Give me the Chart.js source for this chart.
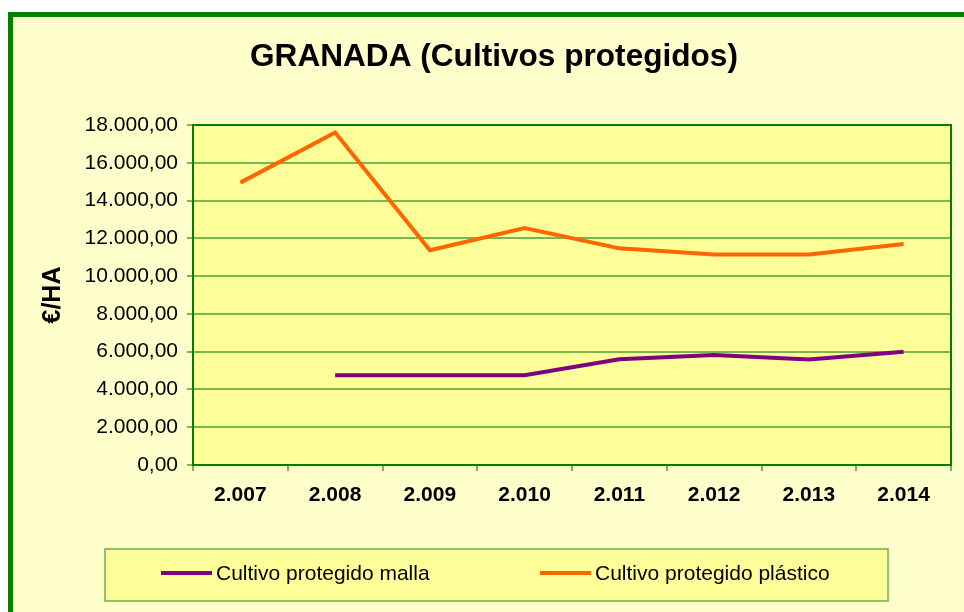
<!DOCTYPE html>
<html>
<head>
<meta charset="utf-8">
<script src="https://cdn.jsdelivr.net/npm/chart.js@4.4.1/dist/chart.umd.min.js"></script>
<style>
  html, body { margin: 0; padding: 0; background: #fff; overflow: hidden; }
  #wrap { width: 964px; height: 612px; position: relative; }
</style>
</head>
<body>
<div id="wrap"><canvas id="chart"></canvas></div>
<script>
// data
const years = ['2.007', '2.008', '2.009', '2.010', '2.011', '2.012', '2.013', '2.014'];
const malla = [null, 4750, 4750, 4750, 5600, 5820, 5580, 6000];
const plastico = [14950, 17600, 11370, 12550, 11470, 11150, 11150, 11700];
const seriesNames = ['Cultivo protegido malla', 'Cultivo protegido plástico'];
const titleText = 'GRANADA (Cultivos protegidos)';
const yTitle = '€/HA';

const FONT = "'Liberation Sans', Arial, sans-serif";
const GRID = '#79B84E';
const DARK = '#008000';

// 18000 -> "18.000,00"
function fmt(v) {
  const s = String(Math.round(v));
  return s.replace(/\B(?=(\d{3})+(?!\d))/g, '.') + ',00';
}

// backgrounds, outer frame, plot frame, title and legend box
const decor = {
  id: 'decor',
  beforeDraw(chart) {
    const ctx = chart.ctx;
    const a = chart.chartArea;
    ctx.save();
    ctx.fillStyle = '#ffffff';
    ctx.fillRect(0, 0, chart.width, chart.height);
    ctx.fillStyle = '#FFFFCC';
    ctx.fillRect(8, 12, chart.width, chart.height);
    ctx.strokeStyle = DARK;
    ctx.lineWidth = 5;
    ctx.strokeRect(10.5, 14.5, chart.width + 20, chart.height + 20);
    ctx.fillStyle = '#FFFF99';
    ctx.fillRect(a.left, a.top, a.right - a.left, a.bottom - a.top);

    ctx.fillStyle = '#000';
    ctx.font = 'bold 31.6px ' + FONT;
    ctx.textAlign = 'center';
    ctx.textBaseline = 'middle';
    ctx.fillText(titleText, 494, 57);
    ctx.restore();
  },
  beforeDatasetsDraw(chart) {
    const ctx = chart.ctx;
    const a = chart.chartArea;
    ctx.save();
    ctx.strokeStyle = DARK;
    ctx.lineWidth = 2;
    ctx.strokeRect(a.left, a.top, a.right - a.left, a.bottom - a.top);
    ctx.restore();
  },
  afterDraw(chart) {
    const ctx = chart.ctx;
    ctx.save();
    ctx.fillStyle = '#FFFF99';
    ctx.fillRect(105, 549, 783, 52);
    ctx.strokeStyle = '#6CB04A';
    ctx.lineWidth = 1.5;
    ctx.strokeRect(105, 549, 783, 52);
    const items = [{ x: 161 }, { x: 540 }];
    chart.data.datasets.forEach((ds, i) => {
      const x = items[i].x;
      ctx.strokeStyle = ds.borderColor;
      ctx.lineWidth = 4;
      ctx.beginPath();
      ctx.moveTo(x, 573);
      ctx.lineTo(x + 51, 573);
      ctx.stroke();
      ctx.fillStyle = '#000';
      ctx.font = '21px ' + FONT;
      ctx.textAlign = 'left';
      ctx.textBaseline = 'middle';
      ctx.fillText(ds.label, x + 55, 574);
    });
    ctx.restore();
  }
};

const ctx = document.getElementById('chart').getContext('2d');
new Chart(ctx, {
  type: 'line',
  data: {
    labels: years,
    datasets: [
      {
        label: seriesNames[0],
        data: malla,
        borderColor: '#800080',
        borderWidth: 4,
        pointRadius: 0,
        tension: 0,
        fill: false
      },
      {
        label: seriesNames[1],
        data: plastico,
        borderColor: '#FF6600',
        borderWidth: 4,
        pointRadius: 0,
        tension: 0,
        fill: false
      }
    ]
  },
  options: {
    responsive: true,
    maintainAspectRatio: false,
    animation: false,
    layout: { padding: { top: 125, right: 13, bottom: 0, left: 0 } },
    plugins: {
      legend: { display: false },
      title: { display: false },
      tooltip: { enabled: false }
    },
    scales: {
      x: {
        offset: true,
        grid: { offset: true, drawOnChartArea: false, color: GRID, lineWidth: 2, tickLength: 6 },
        border: { color: DARK, width: 2 },
        ticks: { color: '#000', font: { family: FONT, size: 21, weight: 'bold' }, padding: 12, maxRotation: 0 },
        afterFit(s) { s.height = 147; }
      },
      y: {
        min: 0,
        max: 18000,
        grid: { color: GRID, lineWidth: 2, tickLength: 6 },
        border: { color: DARK, width: 2 },
        ticks: {
          stepSize: 2000,
          color: '#000',
          font: { family: FONT, size: 21 },
          padding: 9,
          callback: (v) => fmt(v)
        },
        title: {
          display: true,
          text: yTitle,
          color: '#000',
          font: { family: FONT, size: 25, weight: 'bold' },
          padding: { top: 38, bottom: 0 }
        },
        afterFit(s) { s.width = 193; }
      }
    }
  },
  plugins: [decor]
});
</script>
</body>
</html>
